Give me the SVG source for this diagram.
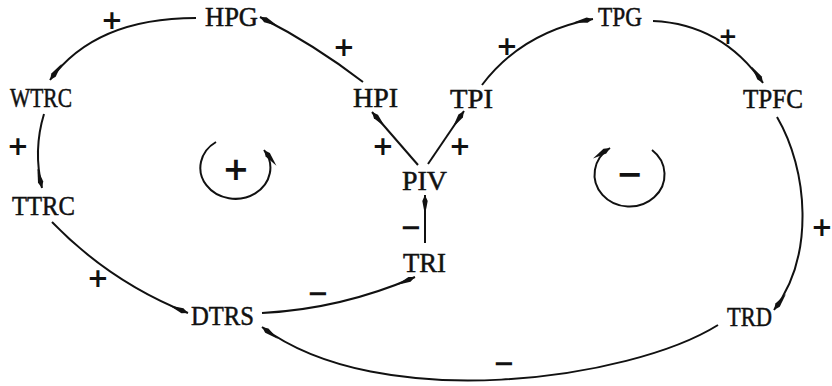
<svg xmlns="http://www.w3.org/2000/svg" width="832" height="386" viewBox="0 0 832 386">
<defs>
<style>
.n{font-family:"Liberation Serif","Times New Roman",serif;font-size:27px;fill:#111;stroke:#111;stroke-width:0.5;}
.s{font-family:"DejaVu Sans","Liberation Sans",sans-serif;font-size:26px;font-weight:bold;fill:#111;text-anchor:middle;}
.c{fill:none;stroke:#111;stroke-width:2;marker-end:url(#ah);}
</style>
<marker id="ah" markerUnits="userSpaceOnUse" viewBox="0 0 20 8" markerWidth="20" markerHeight="8" refX="20" refY="4" orient="auto">
<path d="M0,4 L14,1.3 L20,4 L14,6.7 Z" fill="#111"/>
</marker>
</defs>
<rect width="832" height="386" fill="#fff"/>
<g id="connectors">
<path class="c" d="M196,18 Q95,18 50,80"/>
<path class="c" d="M44,114 Q33,150 42,188"/>
<path class="c" d="M52,222 Q110,282 188,313"/>
<path class="c" d="M262,313 Q341,309 415,277"/>
<path class="c" d="M425,243 L425,195"/>
<path class="c" d="M418,165 L372,112"/>
<path class="c" d="M428,164 L464,111"/>
<path class="c" d="M363,82 Q315,45 260,17"/>
<path class="c" d="M482,85 Q522,32 593,19"/>
<path class="c" d="M653,21 Q722,24 763,83"/>
<path class="c" d="M777,117 C808,170 815,255 774,310"/>
<path class="c" d="M718,325 C630,380 380,415 262,327"/>
</g>
<g id="loop-positive">
<path class="c" d="M216,142 A35,31 0 1,0 264,150"/>
<text class="s" x="236" y="180" style="font-size:32px">+</text>
</g>
<g id="loop-negative">
<path class="c" d="M652,150 A35,32 0 1,1 610,148"/>
<text class="s" x="630" y="185" style="font-size:32px">−</text>
</g>
<g id="HPG"><text class="n" x="205" y="26" textLength="53" lengthAdjust="spacingAndGlyphs">HPG</text></g>
<g id="WTRC"><text class="n" x="10" y="107" textLength="62" lengthAdjust="spacingAndGlyphs">WTRC</text></g>
<g id="HPI"><text class="n" x="353" y="107" textLength="45" lengthAdjust="spacingAndGlyphs">HPI</text></g>
<g id="TPI"><text class="n" x="450" y="108" textLength="43" lengthAdjust="spacingAndGlyphs">TPI</text></g>
<g id="TPG"><text class="n" x="598" y="26" textLength="44" lengthAdjust="spacingAndGlyphs">TPG</text></g>
<g id="TPFC"><text class="n" x="743" y="108" textLength="60" lengthAdjust="spacingAndGlyphs">TPFC</text></g>
<g id="PIV"><text class="n" x="402" y="190" textLength="45" lengthAdjust="spacingAndGlyphs">PIV</text></g>
<g id="TRI"><text class="n" x="403" y="272" textLength="43" lengthAdjust="spacingAndGlyphs">TRI</text></g>
<g id="TTRC"><text class="n" x="12" y="215" textLength="63" lengthAdjust="spacingAndGlyphs">TTRC</text></g>
<g id="DTRS"><text class="n" x="191" y="325" textLength="63" lengthAdjust="spacingAndGlyphs">DTRS</text></g>
<g id="TRD"><text class="n" x="727" y="326" textLength="45" lengthAdjust="spacingAndGlyphs">TRD</text></g>
<g id="polarities">
<text class="s" x="112" y="29">+</text>
<text class="s" x="344" y="56">+</text>
<text class="s" x="18" y="155">+</text>
<text class="s" x="383" y="155">+</text>
<text class="s" x="460" y="155">+</text>
<text class="s" x="507" y="55">+</text>
<text class="s" x="728" y="44" style="font-size:23px">+</text>
<text class="s" x="822" y="236">+</text>
<text class="s" x="98" y="287">+</text>
<text class="s" x="318" y="302">−</text>
<text class="s" x="411" y="236">−</text>
<text class="s" x="504" y="372">−</text>
</g>
</svg>
